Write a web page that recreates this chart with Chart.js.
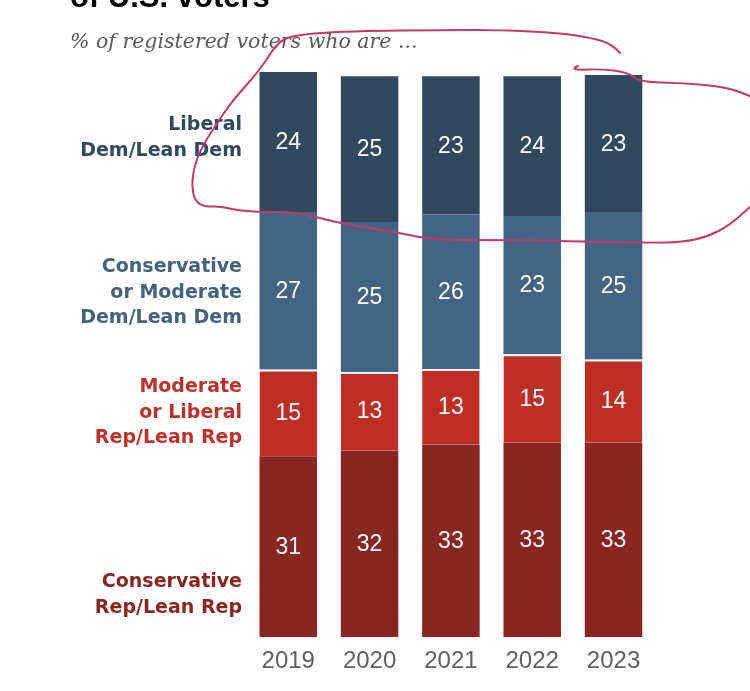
<!DOCTYPE html>
<html>
<head>
<meta charset="utf-8">
<script src="https://cdn.jsdelivr.net/npm/chart.js@4.4.1/dist/chart.umd.min.js"></script>
<style>
  body { margin: 0; background: #fff; }
  canvas { display: block; }
</style>
</head>
<body>
<canvas id="myChart" width="750" height="691"></canvas>
<script>
// Años del eje x
const years = ['2019', '2020', '2021', '2022', '2023'];

const consRep = [30.6, 31.6, 32.6, 32.9, 32.9];
const modRep = [14.7, 13.3, 12.8, 15.0, 14.1];
const consDem = [26.7, 25.4, 26.2, 23.4, 25.0];
const libDem = [23.7, 24.7, 23.4, 23.7, 23.2];

// Nombres de los grupos (de abajo hacia arriba)
const consRepLabel = ['Conservative', 'Rep/Lean Rep'];
const modRepLabel = ['Moderate', 'or Liberal', 'Rep/Lean Rep'];
const consDemLabel = ['Conservative', 'or Moderate', 'Dem/Lean Dem'];
const libDemLabel = ['Liberal', 'Dem/Lean Dem'];

const titleText = 'of U.S. voters';
const subtitleText = '% of registered voters who are ...';

// Colores
const colLib = '#30495f';
const colConsDem = '#436583';
const colModRep = '#bf2e24';
const colConsRep = '#8a2622';

// Textos fuera del gráfico: título, subtítulo y nombres a la izquierda
const textPlugin = {
  id: 'textPlugin',
  afterDraw(chart) {
    const c = chart.ctx;
    c.save();
    c.fillStyle = '#000';
    c.textAlign = 'left';
    c.textBaseline = 'alphabetic';
    c.font = 'bold 31px "Liberation Sans"';
    c.fillText(titleText, 70, 7);

    c.fillStyle = '#595959';
    c.font = 'italic 20.5px "DejaVu Serif"';
    c.textBaseline = 'middle';
    c.fillText(subtitleText, 70, 43);

    c.textAlign = 'right';
    c.font = 'bold 19px "DejaVu Sans"';
    const groups = [
      { lines: libDemLabel, color: colLib, y: 125 },
      { lines: consDemLabel, color: '#43627f', y: 267 },
      { lines: modRepLabel, color: '#c0302a', y: 387 },
      { lines: consRepLabel, color: colConsRep, y: 582 }
    ];
    groups.forEach(g => {
      c.fillStyle = g.color;
      g.lines.forEach((line, i) => {
        c.fillText(line, 242, g.y + i * 25.7);
      });
    });
    c.restore();
  }
};

// Números blancos dentro de cada segmento
const valuePlugin = {
  id: 'valuePlugin',
  afterDatasetsDraw(chart) {
    const c = chart.ctx;
    c.save();
    c.fillStyle = '#fff';
    c.font = '23px "Liberation Sans"';
    c.textAlign = 'center';
    c.textBaseline = 'middle';
    chart.data.datasets.forEach((ds, i) => {
      chart.getDatasetMeta(i).data.forEach((bar, j) => {
        c.fillText(Math.round(ds.data[j]), bar.x, (bar.y + bar.base) / 2 + 1);
      });
    });
    c.restore();
  }
};

// Trazo rosa dibujado a mano encima de la imagen
const scribbleA = [
  [620, 53], [612, 44], [592, 38], [560, 33], [500, 30], [450, 30], [350, 31], [293, 35],
  [277, 43], [260, 70], [233, 100], [217, 123], [200, 150], [192, 175], [193, 198],
  [203, 207], [220, 206], [235, 210], [260, 212], [293, 212], [320, 218], [340, 223],
  [400, 233], [433, 240], [517, 240], [650, 243], [683, 242], [707, 237], [730, 225], [752, 205]
];
const scribbleB = [
  [578, 66], [573, 68], [577, 70], [600, 69], [627, 72], [640, 82], [683, 83], [727, 87], [752, 97]
];

const scribblePlugin = {
  id: 'scribblePlugin',
  afterDraw(chart) {
    const c = chart.ctx;
    c.save();
    c.strokeStyle = '#c23a6c';
    c.lineWidth = 2;
    c.lineJoin = 'round';
    c.lineCap = 'round';
    [scribbleA, scribbleB].forEach(pts => {
      c.beginPath();
      c.moveTo(pts[0][0], pts[0][1]);
      for (let i = 1; i < pts.length - 1; i++) {
        const mx = (pts[i][0] + pts[i + 1][0]) / 2;
        const my = (pts[i][1] + pts[i + 1][1]) / 2;
        c.quadraticCurveTo(pts[i][0], pts[i][1], mx, my);
      }
      const last = pts[pts.length - 1];
      c.lineTo(last[0], last[1]);
      c.stroke();
    });
    c.restore();
  }
};

const ctx = document.getElementById('myChart').getContext('2d');
const chart = new Chart(ctx, {
  type: 'bar',
  data: {
    labels: years,
    datasets: [
      { label: 'Conservative Rep/Lean Rep', data: consRep, backgroundColor: colConsRep },
      {
        label: 'Moderate or Liberal Rep/Lean Rep', data: modRep, backgroundColor: colModRep,
        borderColor: '#fff', borderWidth: { top: 2 }, borderSkipped: false
      },
      { label: 'Conservative or Moderate Dem/Lean Dem', data: consDem, backgroundColor: colConsDem },
      { label: 'Liberal Dem/Lean Dem', data: libDem, backgroundColor: colLib }
    ]
  },
  options: {
    responsive: false,
    animation: false,
    layout: {
      padding: { left: 247.6, right: 95.8, top: 46.7, bottom: 5.3 }
    },
    plugins: {
      legend: { display: false },
      tooltip: { enabled: false }
    },
    datasets: {
      bar: { categoryPercentage: 1, barPercentage: 0.707 }
    },
    scales: {
      x: {
        stacked: true,
        grid: { display: false, drawTicks: false },
        border: { display: false },
        ticks: {
          color: '#5f5f5f',
          font: { family: 'Liberation Sans', size: 24 },
          padding: 10
        }
      },
      y: {
        stacked: true,
        display: false,
        min: 0,
        max: 100
      }
    }
  },
  plugins: [valuePlugin, textPlugin, scribblePlugin]
});
</script>
</body>
</html>
